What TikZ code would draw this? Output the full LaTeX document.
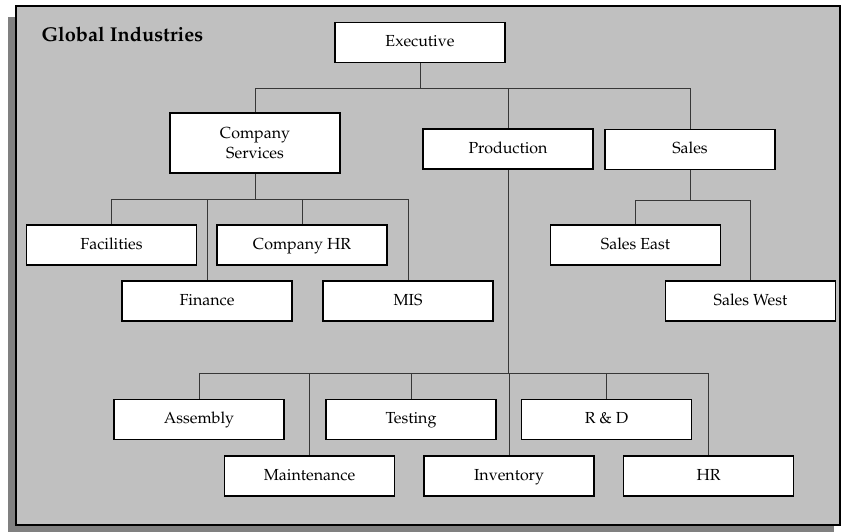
\documentclass[tikz,border=0pt]{standalone}
\usepackage[T1]{fontenc}
\usepackage{mathpazo}
\definecolor{panelgray}{RGB}{192,192,192}
\definecolor{shadegray}{RGB}{128,128,128}
\definecolor{wiregray}{RGB}{55,55,55}
\begin{document}
\begin{tikzpicture}[x=1pt,y=-1pt,
      every node/.append style={font=\fontsize{16}{20}\selectfont}]
    \tikzstyle{unitbox} = [draw=black,fill=white,line width=1.6pt,
      minimum width=170pt,minimum height=40pt,inner sep=0pt,align=center]
    \tikzstyle{unit} = [unitbox,text height=11.5pt,text depth=3.5pt]
    \tikzstyle{wire} = [draw=wiregray,line width=0.9pt]
    \useasboundingbox (0,0) rectangle (842,531);
    % panel with its shadow
    \fill[shadegray] (8,17) rectangle (834,535);
    \draw[line width=2pt,fill=panelgray] (16,6) rectangle (840,525);
    \node (title) [anchor=base west,font=\fontsize{20}{24}\selectfont\bfseries]
      at (38,41) {Global Industries};
    % top level
    \node[unit] (exec) at (420,42.5) {Executive};
    \node[unitbox,minimum height=60pt] (services) at (255,143) {Company\\Services};
    \node[unit] (production) at (508,149) {Production};
    \node[unit] (sales) at (690,149.5) {Sales};
    % company services
    \node[unit] (facilities) at (111.5,245) {Facilities};
    \node[unit] (companyhr) at (302,245) {Company HR};
    \node[unit] (finance) at (207,301) {Finance};
    \node[unit] (mis) at (408,301) {MIS};
    % sales
    \node[unit] (salesEast) at (635.5,245) {Sales East};
    \node[unit] (salesWest) at (750.5,301) {Sales West};
    % production
    \node[unit] (assembly) at (199,419.5) {Assembly};
    \node[unit] (testing) at (411,419.5) {Testing};
    \node[unit] (rd) at (606.5,419.5) {R \& D};
    \node[unit] (maintenance) at (309.5,476) {Maintenance};
    \node[unit] (inventory) at (509,476) {Inventory};
    \node[unit] (hr) at (708.5,476) {HR};
    % connectors
    \foreach \child in {services,production,sales}
      \draw[wire] (exec.south) -- ++(0,25) -| (\child.north);
    \foreach \child in {facilities,finance,companyhr,mis}
      \draw[wire] (services.south) -- ++(0,26) -| (\child.north);
    \foreach \child in {salesEast,salesWest}
      \draw[wire] (sales.south) -- ++(0,30) -| (\child.north);
    \foreach \child in {assembly,maintenance,testing,inventory,rd,hr}
      \draw[wire] (production.south) -- ++(0,204) -| (\child.north);
\end{tikzpicture}
\end{document}
